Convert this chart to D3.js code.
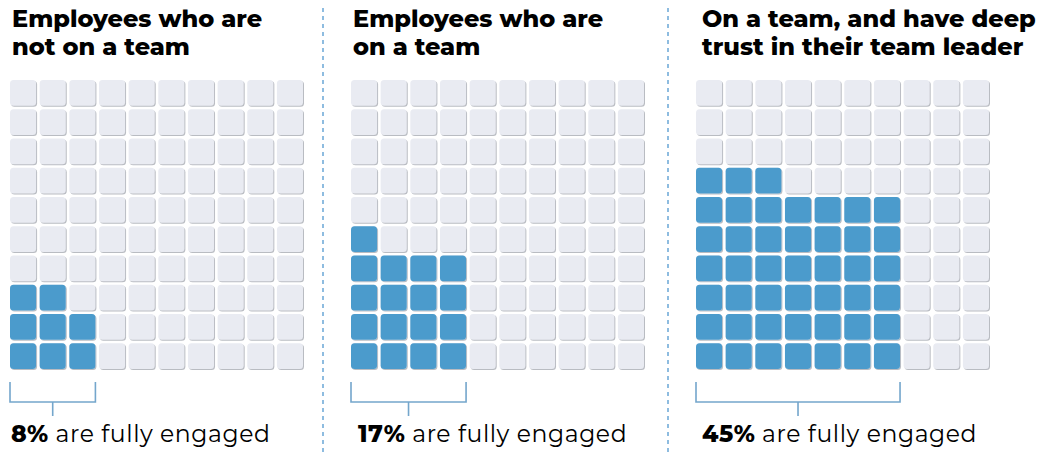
<!DOCTYPE html>
<html>
<head>
<meta charset="utf-8">
<script src="https://cdn.jsdelivr.net/npm/d3@7"></script>
<style>
  body { margin: 0; background: #fff; }
  svg { display: block; }
  .title { font-family: "Montserrat", "Open Sans", sans-serif; font-weight: 800; font-size: 24px; fill: #000; }
  .label { font-family: "Montserrat", "Open Sans", sans-serif; font-size: 23.5px; fill: #000; letter-spacing: 0.6px; }
  .label .pct { font-weight: 800; }
</style>
</head>
<body>
<div id="chart"></div>
<script>
// chart data
var titles = [
  ["Employees who are", "not on a team"],
  ["Employees who are", "on a team"],
  ["On a team, and have deep", "trust in their team leader"]
];
var engaged = [8, 17, 45];          // percent fully engaged
var blockCols = [3, 4, 7];          // width of the filled block, in cells
var labelText = " are fully engaged";

var W = 1040, H = 453;
var panelX = [10, 351, 696];
var titleX = [12, 353, 702];
var labelX = [11, 358, 702];
var gridTop = 80;

var svg = d3.select("#chart").append("svg")
    .attr("width", W)
    .attr("height", H);

// soft edge under the grey cells
var defs = svg.append("defs");
var filter = defs.append("filter").attr("id", "cell-shadow")
    .attr("x", "-10%").attr("y", "-10%").attr("width", "130%").attr("height", "130%");
filter.append("feGaussianBlur").attr("in", "SourceAlpha").attr("stdDeviation", 0.5).attr("result", "blur");
filter.append("feOffset").attr("in", "blur").attr("dx", 0.8).attr("dy", 0.9).attr("result", "offsetBlur");
filter.append("feFlood").attr("flood-color", "#b9bcc2").attr("flood-opacity", 1).attr("result", "col");
filter.append("feComposite").attr("in", "col").attr("in2", "offsetBlur").attr("operator", "in").attr("result", "shadow");
var feMerge = filter.append("feMerge");
feMerge.append("feMergeNode").attr("in", "shadow");
feMerge.append("feMergeNode").attr("in", "SourceGraphic");

var x = d3.scaleBand().domain(d3.range(10)).range([0, 293]).paddingInner(0.12);
var y = d3.scaleBand().domain(d3.range(10)).range([0, 289]).paddingInner(0.12);

// dividers
[323, 668].forEach(function(dx){
  svg.append("line")
    .attr("x1", dx).attr("x2", dx)
    .attr("y1", 8).attr("y2", H)
    .attr("stroke", "#6aa7d6")
    .attr("stroke-width", 1.5)
    .attr("stroke-dasharray", "4,4");
});

titles.forEach(function(lines, p){
  var g = svg.append("g");

  // title
  var t = g.append("text").attr("class", "title");
  lines.forEach(function(line, i){
    t.append("tspan").attr("x", titleX[p]).attr("y", 27 + i * 28).text(line);
  });

  // waffle
  var grid = g.append("g").attr("transform", "translate(" + panelX[p] + "," + gridTop + ")");
  var w = blockCols[p];
  var cells = d3.range(100).map(function(k){
    var row = 9 - Math.floor(k / 10), col = k % 10;
    return { row: row, col: col };
  });
  var filled = d3.range(engaged[p]).map(function(k){
    return { row: 9 - Math.floor(k / w), col: k % w };
  });

  grid.selectAll("rect.empty").data(cells).enter().append("rect")
    .attr("class", "empty")
    .attr("x", function(d){ return x(d.col); })
    .attr("y", function(d){ return y(d.row); })
    .attr("width", x.bandwidth())
    .attr("height", y.bandwidth())
    .attr("rx", 3.5)
    .attr("fill", "#e9ebf2")
    .attr("filter", "url(#cell-shadow)");

  grid.selectAll("rect.full").data(filled).enter().append("rect")
    .attr("class", "full")
    .attr("x", function(d){ return x(d.col); })
    .attr("y", function(d){ return y(d.row); })
    .attr("width", x.bandwidth())
    .attr("height", y.bandwidth())
    .attr("rx", 3.5)
    .attr("fill", "#4b9bcc");

  // bracket under the filled block
  var bx0 = panelX[p] + x(0), bx1 = panelX[p] + x(w - 1) + x.bandwidth();
  var by0 = 382, by1 = 402;
  g.append("path")
    .attr("d", "M" + bx0 + "," + by0 + "V" + by1 + "H" + bx1 + "V" + by0 +
               "M" + ((bx0 + bx1) / 2) + "," + by1 + "V" + 416)
    .attr("fill", "none")
    .attr("stroke", "#74a6cc")
    .attr("stroke-width", 1.6);

  // label
  var lab = g.append("text").attr("class", "label").attr("x", labelX[p]).attr("y", 442);
  lab.append("tspan").attr("class", "pct").text(engaged[p] + "%");
  lab.append("tspan").text(labelText);
});
</script>
</body>
</html>
